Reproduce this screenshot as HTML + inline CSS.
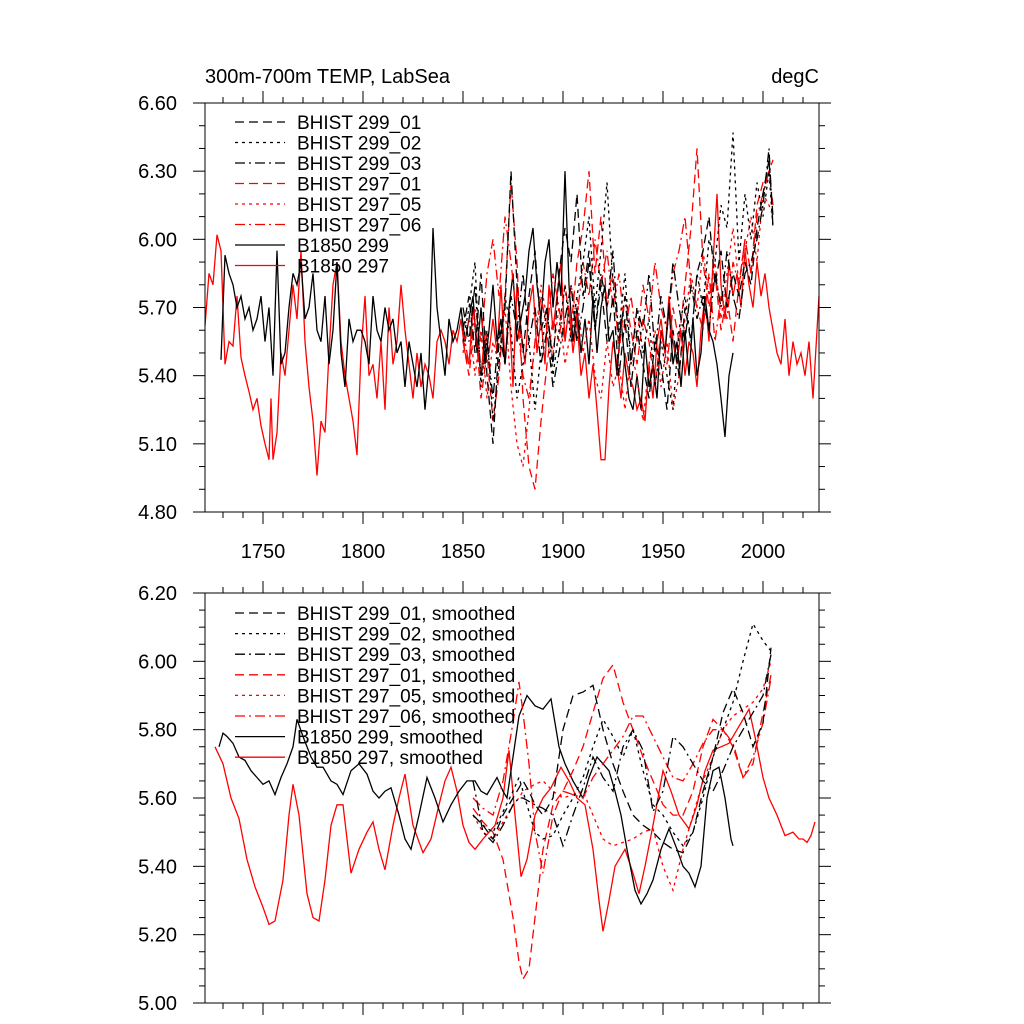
<!DOCTYPE html>
<html><head><meta charset="utf-8">
<style>
html,body{margin:0;padding:0;background:#fff;}
svg{display:block;font-family:"Liberation Sans",sans-serif;}
</style></head>
<body>
<svg id="chart" width="1024" height="1024" viewBox="0 0 1024 1024" xmlns="http://www.w3.org/2000/svg">
<text x="205" y="83" font-size="20">300m-700m TEMP, LabSea</text>
<text x="819" y="83" font-size="20" text-anchor="end">degC</text>
<g id="top"></g>
<g id="bot"></g>
</svg>
<script>
const NS="http://www.w3.org/2000/svg";
// ---------- data: top (annual) ----------
const ctlYears297=[1721,1723,1725,1727,1729,1731,1733,1735,1737,1739,1741,1743,1745,1747,1749,1751,1753,1754,1755,1757,1759,1761,1763,1765,1767,1769,1771,1773,1775,1777,1779,1781,1783,1785,1787,1789,1791,1793,1795,1797,1799,1801,1803,1805,1807,1809,1811,1813,1815,1817,1819,1821,1823,1825,1827,1829,1831,1833,1835,1837,1839,1841,1843,1845,1847,1849,1851,1853,1855,1857,1859,1861,1863,1865,1867,1869,1871,1873,1875,1877,1879,1881,1883,1885,1887,1889,1891,1893,1895,1897,1899,1901,1903,1905,1907,1909,1911,1913,1915,1917,1919,1921,1923,1925,1927,1929,1931,1933,1935,1937,1939,1941,1943,1945,1947,1949,1951,1953,1955,1957,1959,1961,1963,1965,1967,1969,1971,1973,1975,1977,1979,1981,1983,1985,1987,1989,1991,1993,1995,1997,1999,2001,2003,2005,2007,2009,2011,2013,2015,2017,2019,2021,2023,2025,2027,2028];
const ctl297=[5.62,5.85,5.80,6.02,5.95,5.45,5.55,5.53,5.75,5.48,5.40,5.33,5.25,5.30,5.18,5.10,5.03,5.30,5.03,5.15,5.50,5.40,5.60,5.80,5.65,5.95,5.55,5.35,5.20,4.96,5.20,5.15,5.50,5.80,5.90,5.55,5.40,5.30,5.20,5.05,5.50,5.75,5.40,5.45,5.30,5.55,5.25,5.70,5.45,5.55,5.80,5.60,5.45,5.30,5.50,5.35,5.45,5.40,5.30,5.55,5.60,5.55,5.45,5.60,5.55,5.65,5.50,5.45,5.70,5.55,5.40,5.60,5.50,5.65,5.50,5.80,5.45,5.70,5.35,5.80,5.60,5.45,5.70,5.80,5.50,5.65,5.45,5.80,5.60,5.75,5.90,5.55,5.70,5.50,5.65,5.40,5.50,5.30,5.45,5.25,5.03,5.03,5.35,5.55,5.45,5.30,5.50,5.40,5.35,5.25,5.30,5.20,5.45,5.30,5.55,5.65,5.50,5.75,5.55,5.45,5.60,5.40,5.55,5.50,5.35,5.60,5.75,5.55,5.90,6.20,5.80,5.65,5.90,5.75,5.85,5.70,5.95,5.80,5.70,5.90,5.75,5.85,5.70,5.60,5.50,5.45,5.65,5.40,5.55,5.45,5.50,5.40,5.55,5.30,5.60,5.75];
const ctlYears299=[1729,1731,1733,1735,1737,1739,1741,1743,1745,1747,1749,1751,1753,1755,1757,1759,1761,1763,1765,1767,1769,1771,1773,1775,1777,1779,1781,1783,1785,1787,1789,1791,1793,1795,1797,1799,1801,1803,1805,1807,1809,1811,1813,1815,1817,1819,1821,1823,1825,1827,1829,1831,1833,1835,1837,1839,1841,1843,1845,1847,1849,1851,1853,1855,1857,1859,1861,1863,1865,1867,1869,1871,1873,1875,1877,1879,1881,1883,1885,1887,1889,1891,1893,1895,1897,1899,1901,1903,1905,1907,1909,1911,1913,1915,1917,1919,1921,1923,1925,1927,1929,1931,1933,1935,1937,1939,1941,1943,1945,1947,1949,1951,1953,1955,1957,1959,1961,1963,1965,1967,1969,1971,1973,1975,1977,1979,1981,1983,1985];
const ctl299=[5.47,5.93,5.85,5.80,5.70,5.75,5.65,5.70,5.60,5.65,5.75,5.55,5.70,5.40,5.95,5.45,5.50,5.70,5.85,5.80,5.90,5.65,5.70,5.85,5.60,5.55,5.75,5.45,5.60,5.90,5.50,5.35,5.65,5.55,5.60,5.60,5.55,5.45,5.75,5.60,5.55,5.70,5.60,5.65,5.50,5.55,5.35,5.55,5.45,5.35,5.50,5.25,5.45,6.05,5.70,5.55,5.40,5.65,5.55,5.60,5.70,5.55,5.65,5.75,5.50,5.70,5.45,5.60,5.80,5.55,5.65,5.45,5.70,5.85,5.55,5.65,5.75,5.95,6.05,5.80,5.65,5.90,6.00,5.70,5.90,5.75,6.30,5.80,5.55,5.70,5.50,5.65,5.45,5.75,5.50,5.70,5.80,5.55,5.60,5.40,5.65,5.45,5.30,5.25,5.40,5.25,5.55,5.35,5.45,5.30,5.60,5.50,5.70,5.45,5.55,5.35,5.60,5.40,5.65,5.40,5.50,5.75,5.60,5.55,5.45,5.30,5.13,5.40,5.50];
const histYears=[1850,1853,1856,1859,1862,1865,1868,1871,1874,1877,1880,1883,1886,1889,1892,1895,1898,1901,1904,1907,1910,1913,1916,1919,1922,1925,1928,1931,1934,1937,1940,1943,1946,1949,1952,1955,1958,1961,1964,1967,1970,1973,1976,1979,1982,1985,1988,1991,1994,1997,2000,2003,2005];
const h299_01=[5.60,5.75,5.50,5.85,5.40,5.10,5.55,5.70,6.30,5.80,5.50,5.75,5.95,5.60,5.70,5.45,5.85,6.05,5.90,6.20,5.75,5.95,5.60,5.80,5.55,5.75,5.40,5.65,5.35,5.60,5.45,5.30,5.55,5.45,5.25,5.60,5.40,5.70,5.55,5.85,5.95,6.10,5.80,5.95,5.70,5.85,5.75,5.90,5.80,6.05,6.20,6.35,6.10];
const h299_02=[5.55,5.70,5.90,5.35,5.60,5.20,5.45,5.75,5.60,5.30,5.45,5.55,5.25,5.50,5.70,5.40,5.60,5.80,5.55,5.75,5.90,6.10,5.70,5.95,6.25,5.80,5.60,5.85,5.45,5.70,5.50,5.65,5.35,5.55,5.40,5.25,5.60,5.75,5.55,5.85,5.70,6.00,5.90,6.15,6.05,6.47,5.90,6.20,6.00,6.25,6.10,6.30,6.05];
const h299_03=[5.70,5.55,5.80,5.40,5.55,5.30,5.60,5.45,5.75,5.60,5.85,5.55,5.70,5.45,5.60,5.35,5.50,5.65,5.80,5.55,5.70,5.90,5.60,5.85,5.70,5.95,5.55,5.75,5.45,5.70,5.60,5.85,5.50,5.75,5.60,5.90,5.70,5.55,5.80,5.65,5.75,5.60,5.85,5.70,5.95,5.75,5.65,5.85,5.90,6.00,6.15,6.40,6.05];
const h297_01=[5.55,5.40,5.65,5.30,5.50,5.20,5.40,5.75,6.25,5.90,5.30,5.00,4.90,5.20,5.45,5.65,5.55,5.80,5.60,5.90,6.05,6.30,5.85,6.10,5.70,5.85,5.50,5.75,5.60,5.45,5.65,5.55,5.35,5.60,5.45,5.70,5.55,5.80,6.05,6.40,5.90,5.70,5.85,5.60,5.75,5.55,5.80,6.00,5.85,6.15,6.25,6.30,6.35];
const h297_05=[5.50,5.65,5.40,5.60,5.30,5.55,5.45,5.70,5.35,5.10,5.00,5.25,5.55,5.80,5.65,5.50,5.70,5.45,5.60,5.75,5.50,5.65,5.40,5.30,5.55,5.35,5.45,5.25,5.50,5.40,5.20,5.45,5.60,5.35,5.55,5.25,5.40,5.65,5.85,5.70,5.95,5.75,5.90,5.65,5.85,6.05,5.80,5.95,6.10,5.90,6.20,6.15,6.10];
const h297_06=[5.60,5.45,5.70,5.55,5.85,6.00,5.75,6.10,5.90,5.65,5.40,5.30,5.55,5.75,5.60,5.85,5.70,5.55,5.80,5.65,5.90,5.75,6.00,5.80,5.95,5.70,5.85,5.60,5.75,5.55,5.80,5.65,5.90,5.70,5.60,5.85,5.95,6.10,5.80,5.70,5.60,5.85,5.55,5.75,5.65,5.90,5.80,6.00,5.85,6.10,6.20,6.30,6.15];
// ---------- data: bottom (smoothed) ----------
const sYears297=[1726,1730,1734,1738,1742,1746,1750,1753,1756,1760,1763,1765,1768,1772,1775,1778,1781,1784,1787,1790,1794,1798,1802,1805,1808,1811,1815,1818,1821,1825,1830,1834,1838,1841,1844,1847,1850,1853,1856,1860,1863,1866,1870,1873,1876,1879,1882,1886,1890,1894,1899,1903,1907,1911,1915,1918,1920,1923,1926,1931,1935,1938,1941,1945,1950,1954,1958,1963,1967,1971,1975,1979,1983,1987,1990,1993,1996,2000,2003,2007,2011,2015,2018,2020,2022,2024,2026];
const s297=[5.75,5.70,5.60,5.54,5.42,5.34,5.28,5.23,5.24,5.36,5.55,5.64,5.55,5.32,5.25,5.24,5.36,5.52,5.58,5.58,5.38,5.45,5.50,5.53,5.45,5.39,5.52,5.60,5.67,5.52,5.44,5.48,5.58,5.65,5.69,5.62,5.52,5.47,5.45,5.48,5.50,5.52,5.60,5.74,5.55,5.37,5.42,5.55,5.60,5.63,5.69,5.65,5.60,5.58,5.45,5.30,5.21,5.30,5.40,5.45,5.38,5.32,5.40,5.52,5.68,5.62,5.55,5.51,5.58,5.68,5.74,5.75,5.76,5.80,5.83,5.86,5.78,5.66,5.60,5.55,5.49,5.50,5.48,5.48,5.47,5.49,5.53];
const sYears299=[1728,1730,1732,1735,1738,1741,1744,1747,1750,1753,1756,1759,1762,1765,1767,1770,1774,1777,1780,1784,1787,1790,1794,1798,1802,1805,1808,1811,1814,1818,1821,1824,1828,1832,1836,1840,1844,1848,1852,1856,1859,1862,1865,1867,1870,1872,1875,1878,1882,1886,1890,1894,1898,1901,1905,1908,1910,1913,1917,1920,1923,1926,1929,1932,1936,1939,1942,1945,1949,1953,1957,1960,1963,1966,1969,1972,1975,1978,1981,1984,1985];
const s299=[5.75,5.79,5.78,5.76,5.72,5.71,5.68,5.66,5.64,5.65,5.61,5.66,5.70,5.75,5.83,5.78,5.72,5.69,5.69,5.65,5.64,5.61,5.68,5.70,5.67,5.62,5.60,5.62,5.63,5.55,5.48,5.45,5.55,5.66,5.60,5.53,5.58,5.62,5.65,5.65,5.62,5.61,5.64,5.66,5.62,5.60,5.72,5.84,5.90,5.87,5.86,5.89,5.75,5.70,5.65,5.62,5.60,5.66,5.72,5.70,5.68,5.62,5.55,5.45,5.33,5.29,5.32,5.36,5.45,5.51,5.45,5.40,5.38,5.34,5.40,5.60,5.68,5.69,5.60,5.48,5.46];
const sHistYears=[1855,1860,1865,1870,1875,1878,1880,1883,1886,1890,1895,1900,1905,1910,1915,1920,1925,1930,1935,1940,1945,1950,1955,1960,1965,1970,1975,1980,1985,1990,1995,2000,2004];
const s299_01=[5.55,5.52,5.48,5.55,5.60,5.63,5.65,5.62,5.58,5.55,5.60,5.80,5.90,5.91,5.93,5.80,5.70,5.62,5.55,5.52,5.50,5.47,5.45,5.44,5.50,5.62,5.72,5.85,5.92,5.85,5.75,5.82,6.04];
const s299_02=[5.55,5.52,5.50,5.56,5.62,5.66,5.62,5.56,5.50,5.48,5.49,5.55,5.60,5.66,5.75,5.83,5.78,5.72,5.80,5.68,5.58,5.55,5.50,5.46,5.50,5.60,5.72,5.80,5.88,6.00,6.11,6.06,6.03];
const s299_03=[5.65,5.50,5.47,5.52,5.58,5.60,5.60,5.59,5.58,5.57,5.55,5.46,5.55,5.63,5.72,5.66,5.62,5.75,5.80,5.74,5.56,5.62,5.78,5.75,5.70,5.65,5.62,5.68,5.75,5.80,5.85,5.90,6.02];
const s297_01=[5.57,5.53,5.50,5.42,5.25,5.12,5.07,5.10,5.25,5.45,5.58,5.62,5.68,5.75,5.85,5.95,5.99,5.88,5.80,5.72,5.65,5.58,5.55,5.55,5.62,5.75,5.83,5.80,5.75,5.66,5.70,5.85,5.96];
const s297_05=[5.55,5.50,5.48,5.53,5.58,5.60,5.62,5.63,5.64,5.65,5.62,5.60,5.61,5.62,5.55,5.48,5.46,5.47,5.48,5.50,5.51,5.40,5.33,5.45,5.55,5.65,5.72,5.80,5.84,5.86,5.88,5.92,6.00];
const s297_06=[5.60,5.57,5.55,5.65,5.82,5.94,5.85,5.70,5.50,5.38,5.55,5.62,5.61,5.60,5.66,5.70,5.74,5.78,5.84,5.84,5.78,5.72,5.66,5.65,5.70,5.76,5.80,5.80,5.76,5.66,5.72,5.82,5.95];

// ---------- drawing ----------
const X0=205,X1=819,XMIN=1721,XMAX=2028;
function xs(yr){return X0+(yr-XMIN)/(XMAX-XMIN)*(X1-X0);}
function mk(tag,attrs,parent){const e=document.createElementNS(NS,tag);for(const k in attrs)e.setAttribute(k,attrs[k]);parent.appendChild(e);return e;}
const DASH={solid:"",dash:"9,5",dot:"3,4",dashdot:"10,4,2,4"};

function panel(g,top,bot,ymin,ymax,major,minor,fmt,showX,series,legend,ly0,lstep){
  const ys=v=>bot-(v-ymin)/(ymax-ymin)*(bot-top);
  series.forEach(s=>{
    const n=Math.min(s.x.length,s.y.length);
    let d="";
    for(let i=0;i<n;i++)d+=(i?"L":"M")+xs(s.x[i]).toFixed(1)+","+ys(s.y[i]).toFixed(1);
    const p=mk("path",{d:d,fill:"none",stroke:s.c,"stroke-width":1.3,"stroke-dasharray":DASH[s.st]},g);
    
    
  });
  const fr=mk("rect",{x:X0,y:top,width:X1-X0,height:bot-top,fill:"none",stroke:"#000","stroke-width":1},g);
  
  
  for(let yr=1730;yr<=2020;yr+=10){
    const x=xs(yr),L=(yr%50===0)?12:6;
    mk("line",{x1:x,y1:bot,x2:x,y2:bot+L,stroke:"#000"},g);
    mk("line",{x1:x,y1:top,x2:x,y2:top-L,stroke:"#000"},g);
    if(showX&&yr%50===0){
      const t=mk("text",{x:x,y:bot+46,"font-size":20,"text-anchor":"middle"},g);
      t.textContent=yr;
      
      
    }
  }
  const nMinor=Math.round((ymax-ymin)/minor);
  for(let i=0;i<=nMinor;i++){
    const v=ymin+i*minor,y=ys(v);
    const isMaj=Math.abs(v/major-Math.round(v/major))<1e-6;
    const L=isMaj?12:6;
    mk("line",{x1:X0,y1:y,x2:X0-L,y2:y,stroke:"#000"},g);
    mk("line",{x1:X1,y1:y,x2:X1+L,y2:y,stroke:"#000"},g);
    if(isMaj){
      const t=mk("text",{x:X0-28,y:y+7,"font-size":20,"text-anchor":"end"},g);
      t.textContent=v.toFixed(fmt);
      
      
    }
  }
  legend.forEach((s,i)=>{
    const y=ly0+i*lstep;
    const ln=mk("line",{x1:235,y1:y,x2:285,y2:y,stroke:s.c,"stroke-width":1.3,"stroke-dasharray":DASH[s.st]},g);
    
    
    const t=mk("text",{x:297,y:y+7,"font-size":19},g);
    t.textContent=s.label;
    
    
  });
}

const topSeries=[
 {x:ctlYears297,y:ctl297,c:"#f00",st:"solid",name:"b1850-297-line"},
 {x:ctlYears299,y:ctl299,c:"#000",st:"solid",name:"b1850-299-line"},
 {x:histYears,y:h297_05,c:"#f00",st:"dot",name:"bhist-297-05-line"},
 {x:histYears,y:h297_06,c:"#f00",st:"dashdot",name:"bhist-297-06-line"},
 {x:histYears,y:h297_01,c:"#f00",st:"dash",name:"bhist-297-01-line"},
 {x:histYears,y:h299_03,c:"#000",st:"dashdot",name:"bhist-299-03-line"},
 {x:histYears,y:h299_02,c:"#000",st:"dot",name:"bhist-299-02-line"},
 {x:histYears,y:h299_01,c:"#000",st:"dash",name:"bhist-299-01-line"}
];
const topLegend=[
 {c:"#000",st:"dash",label:"BHIST 299_01"},{c:"#000",st:"dot",label:"BHIST 299_02"},{c:"#000",st:"dashdot",label:"BHIST 299_03"},
 {c:"#f00",st:"dash",label:"BHIST 297_01"},{c:"#f00",st:"dot",label:"BHIST 297_05"},{c:"#f00",st:"dashdot",label:"BHIST 297_06"},
 {c:"#000",st:"solid",label:"B1850 299"},{c:"#f00",st:"solid",label:"B1850 297"}];
panel(document.getElementById("top"),103,512,4.8,6.6,0.3,0.1,2,true,topSeries,topLegend,122,20.5);

const botSeries=[
 {x:sYears297,y:s297,c:"#f00",st:"solid",name:"b1850-297-smoothed-line"},
 {x:sYears299,y:s299,c:"#000",st:"solid",name:"b1850-299-smoothed-line"},
 {x:sHistYears,y:s297_05,c:"#f00",st:"dot",name:"bhist-297-05-smoothed-line"},
 {x:sHistYears,y:s297_06,c:"#f00",st:"dashdot",name:"bhist-297-06-smoothed-line"},
 {x:sHistYears,y:s297_01,c:"#f00",st:"dash",name:"bhist-297-01-smoothed-line"},
 {x:sHistYears,y:s299_03,c:"#000",st:"dashdot",name:"bhist-299-03-smoothed-line"},
 {x:sHistYears,y:s299_02,c:"#000",st:"dot",name:"bhist-299-02-smoothed-line"},
 {x:sHistYears,y:s299_01,c:"#000",st:"dash",name:"bhist-299-01-smoothed-line"}
];
const botLegend=topLegend.map(l=>({c:l.c,st:l.st,label:l.label+", smoothed"}));
panel(document.getElementById("bot"),593,1003,5.0,6.2,0.2,0.05,2,false,botSeries,botLegend,613,20.6);
</script>
</body></html>
